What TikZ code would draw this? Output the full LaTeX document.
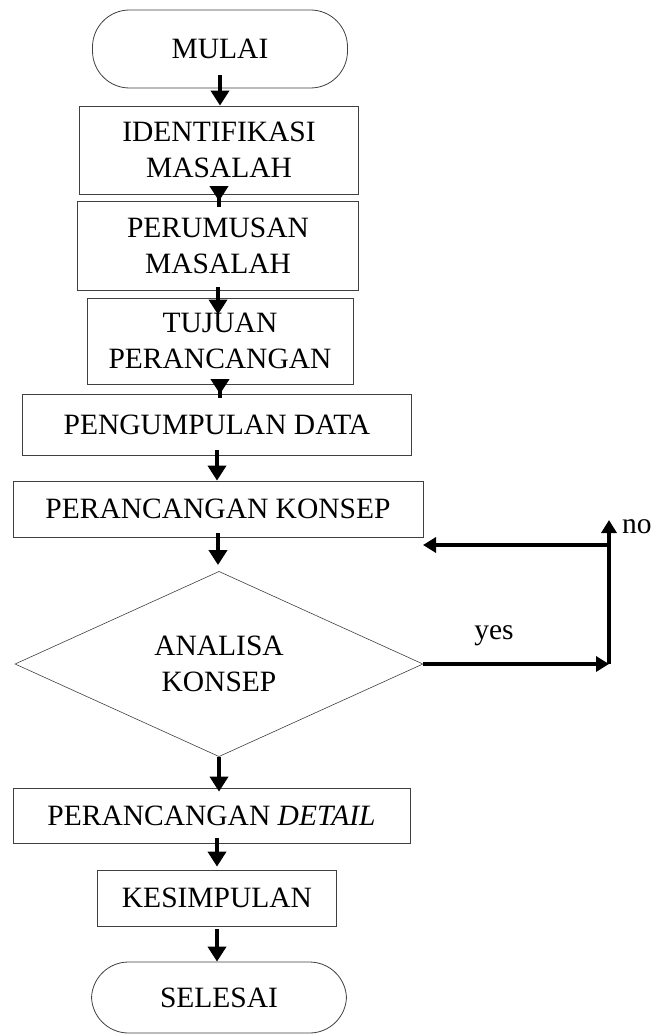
\documentclass[tikz,border=0pt]{standalone}
\usepackage{fontspec}
\setmainfont{Liberation Serif}
\usetikzlibrary{shapes.geometric,arrows.meta}
\tikzset{
  kotak/.style={draw=black!75, line width=0.8pt, rectangle, align=center, inner sep=0pt,
    font=\fontsize{29.5}{36}\selectfont},
  terminal/.style={kotak, rounded corners=37pt},
  keputusan/.style={draw=black!75, line width=0.6pt, diamond, align=center, inner sep=0pt,
    minimum width=408pt, minimum height=173pt, font=\fontsize{29.5}{36}\selectfont},
  panah/.style={line width=4.2pt, -{Triangle[length=15pt,width=18pt]}},
  panahkecil/.style={line width=4.2pt, -{Triangle[length=13pt,width=15pt]}},
  teks/.style={font=\fontsize{29.5}{36}\selectfont, inner sep=0pt}
}

\begin{document}
\begin{tikzpicture}[x=1pt,y=-1pt]
  \useasboundingbox (0,0) rectangle (653,1035);
  % \draw[step=50,gray,very thin] (0,0) grid (653,1035);
  \node[terminal, minimum width=255pt, minimum height=78pt] (mulai) at (220,49) {MULAI};
  \node[kotak, minimum width=279pt, minimum height=88pt] (identifikasi) at (219,150) {IDENTIFIKASI\\MASALAH};
  \node[kotak, minimum width=281pt, minimum height=89pt] (perumusan) at (218,246) {PERUMUSAN\\MASALAH};
  \node[kotak, minimum width=266pt, minimum height=86pt] (tujuan) at (220,341) {TUJUAN\\PERANCANGAN};
  \node[kotak, minimum width=389pt, minimum height=61pt] (pengumpulan) at (217,425) {PENGUMPULAN DATA};
  \node[kotak, minimum width=410pt, minimum height=56pt] (konsep) at (218,509) {PERANCANGAN KONSEP};
  \node[keputusan] (analisa) at (219,664) {ANALISA\\KONSEP};
  \node[kotak, minimum width=397pt, minimum height=55pt] (detail) at (211.5,815.5) {PERANCANGAN \textit{DETAIL}};
  \node[kotak, minimum width=239pt, minimum height=56pt] (kesimpulan) at (217,898) {KESIMPULAN};
  \node[terminal, minimum width=255pt, minimum height=71pt] (selesai) at (219,997.5) {SELESAI};

  % alur utama
  \draw[panah, shorten <=-13pt] (mulai.south) -- (mulai.south |- identifikasi.north);
  \draw[panah, shorten <=-13pt] (identifikasi.south) -- (identifikasi.south |- perumusan.north);
  \draw[panah, shorten <=-4pt, shorten >=-17pt] (perumusan.south) -- (perumusan.south |- tujuan.north);
  \draw[panah, shorten <=-14pt] (tujuan.south) -- (tujuan.south |- pengumpulan.north);
  \draw[panah, shorten <=-6pt] (pengumpulan.south) -- (pengumpulan.south |- konsep.north);
  \draw[panah, shorten <=-4pt, shorten >=6pt] (konsep.south) -- (konsep.south |- analisa.north);
  \draw[panah, shorten >=-4pt] (analisa.south) -- (analisa.south |- detail.north);
  \draw[panah, shorten <=-5pt, shorten >=3pt] (kesimpulan.north |- detail.south) -- (kesimpulan.north);
  \draw[panah, shorten <=3pt] (kesimpulan.south) -- (kesimpulan.south |- selesai.north);

  % putaran yes / no
  \coordinate (belok) at (609,664);
  \coordinate (puncak) at (609,520);
  \coordinate (cabang) at (609,545);
  \coordinate (ujungno) at (423,545);
  \draw[panahkecil] (analisa.east) -- (analisa.east -| belok);
  \draw[panahkecil] (belok) -- (puncak);
  \draw[panahkecil] (cabang) -- (ujungno);
  \node[teks, anchor=south] (yes) at (494,646) {yes};
  \node[teks, anchor=south west] (no) at (622,534) {no};
\end{tikzpicture}
\end{document}
